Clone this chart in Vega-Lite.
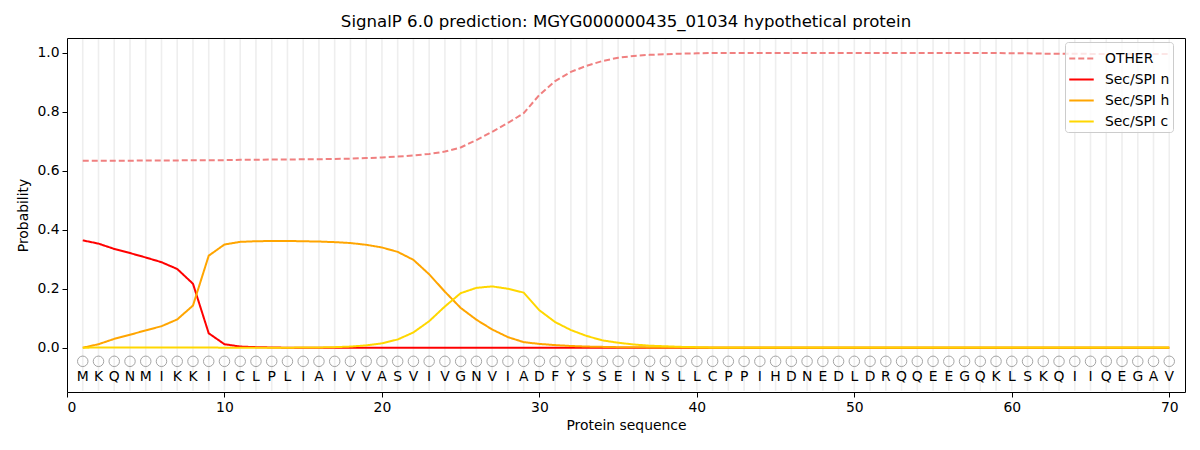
{
  "$schema": "https://vega.github.io/schema/vega-lite/v6.json",
  "description": "SignalP 6.0 per-residue probabilities",
  "width": 1118,
  "height": 354,
  "autosize": "none",
  "padding": {"left": 67, "top": 38, "right": 15, "bottom": 58},
  "background": "white",
  "title": {
    "text": "SignalP 6.0 prediction: MGYG000000435_01034 hypothetical protein",
    "fontSize": 16.6,
    "fontWeight": "normal",
    "font": "DejaVu Sans",
    "color": "black",
    "anchor": "middle",
    "offset": 7
  },
  "config": {
    "font": "DejaVu Sans",
    "view": {"stroke": "black", "strokeWidth": 1},
    "axis": {
      "domain": false,
      "grid": false,
      "tickColor": "black",
      "tickSize": 5,
      "tickWidth": 1,
      "labelColor": "black",
      "labelFontSize": 13.9,
      "labelPadding": 3,
      "titleColor": "black",
      "titleFontSize": 13.9,
      "titleFontWeight": "normal"
    },
    "legend": {
      "orient": "none",
      "legendX": 998,
      "legendY": 4,
      "fillColor": "rgba(255,255,255,0.8)",
      "strokeColor": "#cccccc",
      "cornerRadius": 3,
      "padding": 3,
      "labelFontSize": 13.9,
      "labelColor": "black",
      "labelOffset": 10,
      "symbolType": "stroke",
      "symbolStrokeWidth": 2,
      "symbolSize": 600,
      "rowPadding": 0
    }
  },
  "datasets": {
    "probs": [
      {"pos": 1, "aa": "M", "OTHER": 0.634, "Sec/SPI n": 0.364, "Sec/SPI h": 0.0, "Sec/SPI c": 0.0},
      {"pos": 2, "aa": "K", "OTHER": 0.634, "Sec/SPI n": 0.353, "Sec/SPI h": 0.012, "Sec/SPI c": 0.001},
      {"pos": 3, "aa": "Q", "OTHER": 0.634, "Sec/SPI n": 0.335, "Sec/SPI h": 0.03, "Sec/SPI c": 0.001},
      {"pos": 4, "aa": "N", "OTHER": 0.634, "Sec/SPI n": 0.321, "Sec/SPI h": 0.044, "Sec/SPI c": 0.001},
      {"pos": 5, "aa": "M", "OTHER": 0.635, "Sec/SPI n": 0.306, "Sec/SPI h": 0.059, "Sec/SPI c": 0.001},
      {"pos": 6, "aa": "I", "OTHER": 0.635, "Sec/SPI n": 0.29, "Sec/SPI h": 0.073, "Sec/SPI c": 0.001},
      {"pos": 7, "aa": "K", "OTHER": 0.635, "Sec/SPI n": 0.267, "Sec/SPI h": 0.096, "Sec/SPI c": 0.001},
      {"pos": 8, "aa": "K", "OTHER": 0.636, "Sec/SPI n": 0.217, "Sec/SPI h": 0.143, "Sec/SPI c": 0.001},
      {"pos": 9, "aa": "I", "OTHER": 0.636, "Sec/SPI n": 0.049, "Sec/SPI h": 0.312, "Sec/SPI c": 0.001},
      {"pos": 10, "aa": "I", "OTHER": 0.636, "Sec/SPI n": 0.012, "Sec/SPI h": 0.35, "Sec/SPI c": 0.0},
      {"pos": 11, "aa": "C", "OTHER": 0.637, "Sec/SPI n": 0.004, "Sec/SPI h": 0.359, "Sec/SPI c": 0.0},
      {"pos": 12, "aa": "L", "OTHER": 0.637, "Sec/SPI n": 0.002, "Sec/SPI h": 0.361, "Sec/SPI c": 0.0},
      {"pos": 13, "aa": "P", "OTHER": 0.638, "Sec/SPI n": 0.001, "Sec/SPI h": 0.362, "Sec/SPI c": 0.0},
      {"pos": 14, "aa": "L", "OTHER": 0.638, "Sec/SPI n": 0.0, "Sec/SPI h": 0.362, "Sec/SPI c": 0.0},
      {"pos": 15, "aa": "I", "OTHER": 0.639, "Sec/SPI n": 0.0, "Sec/SPI h": 0.361, "Sec/SPI c": 0.001},
      {"pos": 16, "aa": "A", "OTHER": 0.639, "Sec/SPI n": 0.0, "Sec/SPI h": 0.36, "Sec/SPI c": 0.001},
      {"pos": 17, "aa": "I", "OTHER": 0.64, "Sec/SPI n": 0.0, "Sec/SPI h": 0.358, "Sec/SPI c": 0.002},
      {"pos": 18, "aa": "V", "OTHER": 0.641, "Sec/SPI n": 0.0, "Sec/SPI h": 0.355, "Sec/SPI c": 0.004},
      {"pos": 19, "aa": "V", "OTHER": 0.643, "Sec/SPI n": 0.0, "Sec/SPI h": 0.349, "Sec/SPI c": 0.008},
      {"pos": 20, "aa": "A", "OTHER": 0.645, "Sec/SPI n": 0.0, "Sec/SPI h": 0.34, "Sec/SPI c": 0.015},
      {"pos": 21, "aa": "S", "OTHER": 0.648, "Sec/SPI n": 0.0, "Sec/SPI h": 0.325, "Sec/SPI c": 0.028},
      {"pos": 22, "aa": "V", "OTHER": 0.652, "Sec/SPI n": 0.0, "Sec/SPI h": 0.298, "Sec/SPI c": 0.052},
      {"pos": 23, "aa": "I", "OTHER": 0.657, "Sec/SPI n": 0.0, "Sec/SPI h": 0.249, "Sec/SPI c": 0.09},
      {"pos": 24, "aa": "V", "OTHER": 0.665, "Sec/SPI n": 0.0, "Sec/SPI h": 0.19, "Sec/SPI c": 0.14},
      {"pos": 25, "aa": "G", "OTHER": 0.679, "Sec/SPI n": 0.0, "Sec/SPI h": 0.135, "Sec/SPI c": 0.185},
      {"pos": 26, "aa": "N", "OTHER": 0.704, "Sec/SPI n": 0.0, "Sec/SPI h": 0.095, "Sec/SPI c": 0.203},
      {"pos": 27, "aa": "V", "OTHER": 0.732, "Sec/SPI n": 0.0, "Sec/SPI h": 0.062, "Sec/SPI c": 0.208},
      {"pos": 28, "aa": "I", "OTHER": 0.762, "Sec/SPI n": 0.0, "Sec/SPI h": 0.036, "Sec/SPI c": 0.2},
      {"pos": 29, "aa": "A", "OTHER": 0.795, "Sec/SPI n": 0.0, "Sec/SPI h": 0.019, "Sec/SPI c": 0.187},
      {"pos": 30, "aa": "D", "OTHER": 0.857, "Sec/SPI n": 0.0, "Sec/SPI h": 0.013, "Sec/SPI c": 0.127},
      {"pos": 31, "aa": "F", "OTHER": 0.904, "Sec/SPI n": 0.0, "Sec/SPI h": 0.009, "Sec/SPI c": 0.087},
      {"pos": 32, "aa": "Y", "OTHER": 0.935, "Sec/SPI n": 0.0, "Sec/SPI h": 0.006, "Sec/SPI c": 0.06},
      {"pos": 33, "aa": "S", "OTHER": 0.956, "Sec/SPI n": 0.0, "Sec/SPI h": 0.004, "Sec/SPI c": 0.04},
      {"pos": 34, "aa": "S", "OTHER": 0.972, "Sec/SPI n": 0.0, "Sec/SPI h": 0.003, "Sec/SPI c": 0.025},
      {"pos": 35, "aa": "E", "OTHER": 0.983, "Sec/SPI n": 0.0, "Sec/SPI h": 0.002, "Sec/SPI c": 0.017},
      {"pos": 36, "aa": "I", "OTHER": 0.989, "Sec/SPI n": 0.0, "Sec/SPI h": 0.002, "Sec/SPI c": 0.011},
      {"pos": 37, "aa": "N", "OTHER": 0.993, "Sec/SPI n": 0.0, "Sec/SPI h": 0.001, "Sec/SPI c": 0.007},
      {"pos": 38, "aa": "S", "OTHER": 0.995, "Sec/SPI n": 0.0, "Sec/SPI h": 0.001, "Sec/SPI c": 0.005},
      {"pos": 39, "aa": "L", "OTHER": 0.997, "Sec/SPI n": 0.0, "Sec/SPI h": 0.001, "Sec/SPI c": 0.003},
      {"pos": 40, "aa": "L", "OTHER": 0.998, "Sec/SPI n": 0.0, "Sec/SPI h": 0.0, "Sec/SPI c": 0.002},
      {"pos": 41, "aa": "C", "OTHER": 0.999, "Sec/SPI n": 0.0, "Sec/SPI h": 0.0, "Sec/SPI c": 0.001},
      {"pos": 42, "aa": "P", "OTHER": 0.999, "Sec/SPI n": 0.0, "Sec/SPI h": 0.0, "Sec/SPI c": 0.001},
      {"pos": 43, "aa": "P", "OTHER": 0.999, "Sec/SPI n": 0.0, "Sec/SPI h": 0.0, "Sec/SPI c": 0.001},
      {"pos": 44, "aa": "I", "OTHER": 0.999, "Sec/SPI n": 0.0, "Sec/SPI h": 0.0, "Sec/SPI c": 0.001},
      {"pos": 45, "aa": "H", "OTHER": 0.999, "Sec/SPI n": 0.0, "Sec/SPI h": 0.0, "Sec/SPI c": 0.001},
      {"pos": 46, "aa": "D", "OTHER": 0.999, "Sec/SPI n": 0.0, "Sec/SPI h": 0.0, "Sec/SPI c": 0.001},
      {"pos": 47, "aa": "N", "OTHER": 0.999, "Sec/SPI n": 0.0, "Sec/SPI h": 0.0, "Sec/SPI c": 0.001},
      {"pos": 48, "aa": "E", "OTHER": 0.999, "Sec/SPI n": 0.0, "Sec/SPI h": 0.0, "Sec/SPI c": 0.001},
      {"pos": 49, "aa": "D", "OTHER": 0.999, "Sec/SPI n": 0.0, "Sec/SPI h": 0.0, "Sec/SPI c": 0.001},
      {"pos": 50, "aa": "L", "OTHER": 0.999, "Sec/SPI n": 0.0, "Sec/SPI h": 0.0, "Sec/SPI c": 0.001},
      {"pos": 51, "aa": "D", "OTHER": 0.999, "Sec/SPI n": 0.0, "Sec/SPI h": 0.0, "Sec/SPI c": 0.001},
      {"pos": 52, "aa": "R", "OTHER": 0.999, "Sec/SPI n": 0.0, "Sec/SPI h": 0.0, "Sec/SPI c": 0.001},
      {"pos": 53, "aa": "Q", "OTHER": 0.999, "Sec/SPI n": 0.0, "Sec/SPI h": 0.0, "Sec/SPI c": 0.001},
      {"pos": 54, "aa": "Q", "OTHER": 0.999, "Sec/SPI n": 0.0, "Sec/SPI h": 0.0, "Sec/SPI c": 0.001},
      {"pos": 55, "aa": "E", "OTHER": 0.999, "Sec/SPI n": 0.0, "Sec/SPI h": 0.0, "Sec/SPI c": 0.001},
      {"pos": 56, "aa": "E", "OTHER": 0.999, "Sec/SPI n": 0.0, "Sec/SPI h": 0.0, "Sec/SPI c": 0.001},
      {"pos": 57, "aa": "G", "OTHER": 0.999, "Sec/SPI n": 0.0, "Sec/SPI h": 0.0, "Sec/SPI c": 0.001},
      {"pos": 58, "aa": "Q", "OTHER": 0.999, "Sec/SPI n": 0.0, "Sec/SPI h": 0.0, "Sec/SPI c": 0.001},
      {"pos": 59, "aa": "K", "OTHER": 0.999, "Sec/SPI n": 0.0, "Sec/SPI h": 0.0, "Sec/SPI c": 0.001},
      {"pos": 60, "aa": "L", "OTHER": 0.998, "Sec/SPI n": 0.0, "Sec/SPI h": 0.0, "Sec/SPI c": 0.001},
      {"pos": 61, "aa": "S", "OTHER": 0.998, "Sec/SPI n": 0.0, "Sec/SPI h": 0.0, "Sec/SPI c": 0.001},
      {"pos": 62, "aa": "K", "OTHER": 0.997, "Sec/SPI n": 0.0, "Sec/SPI h": 0.0, "Sec/SPI c": 0.001},
      {"pos": 63, "aa": "Q", "OTHER": 0.997, "Sec/SPI n": 0.0, "Sec/SPI h": 0.0, "Sec/SPI c": 0.001},
      {"pos": 64, "aa": "I", "OTHER": 0.997, "Sec/SPI n": 0.0, "Sec/SPI h": 0.0, "Sec/SPI c": 0.001},
      {"pos": 65, "aa": "I", "OTHER": 0.996, "Sec/SPI n": 0.0, "Sec/SPI h": 0.0, "Sec/SPI c": 0.001},
      {"pos": 66, "aa": "Q", "OTHER": 0.996, "Sec/SPI n": 0.0, "Sec/SPI h": 0.0, "Sec/SPI c": 0.001},
      {"pos": 67, "aa": "E", "OTHER": 0.996, "Sec/SPI n": 0.0, "Sec/SPI h": 0.0, "Sec/SPI c": 0.001},
      {"pos": 68, "aa": "G", "OTHER": 0.996, "Sec/SPI n": 0.0, "Sec/SPI h": 0.0, "Sec/SPI c": 0.001},
      {"pos": 69, "aa": "A", "OTHER": 0.996, "Sec/SPI n": 0.0, "Sec/SPI h": 0.0, "Sec/SPI c": 0.001},
      {"pos": 70, "aa": "V", "OTHER": 0.996, "Sec/SPI n": 0.0, "Sec/SPI h": 0.0, "Sec/SPI c": 0.001}
    ]
  },
  "data": {"name": "probs"},
  "encoding": {
    "x": {
      "field": "pos",
      "type": "quantitative",
      "scale": {"domain": [0, 71], "nice": false, "zero": false},
      "axis": {"values": [0, 10, 20, 30, 40, 50, 60, 70], "title": "Protein sequence", "titlePadding": 5}
    }
  },
  "layer": [
    {
      "mark": {"type": "rule", "color": "#eeeeee", "strokeWidth": 1.6},
      "encoding": {
        "y": {"datum": 1.046, "type": "quantitative"},
        "y2": {"datum": -0.146}
      }
    },
    {
      "transform": [
        {"fold": ["OTHER", "Sec/SPI n", "Sec/SPI h", "Sec/SPI c"], "as": ["series", "prob"]}
      ],
      "mark": {"type": "line", "strokeWidth": 2},
      "encoding": {
        "y": {
          "field": "prob",
          "type": "quantitative",
          "scale": {"domain": [-0.15, 1.05], "nice": false, "zero": false},
          "axis": {"values": [0, 0.2, 0.4, 0.6, 0.8, 1.0], "format": ".1f", "title": "Probability", "titlePadding": 6}
        },
        "color": {
          "field": "series",
          "type": "nominal",
          "scale": {
            "domain": ["OTHER", "Sec/SPI n", "Sec/SPI h", "Sec/SPI c"],
            "range": ["#f08080", "#ff0000", "#ffa500", "#ffd700"]
          },
          "legend": {"title": null}
        },
        "strokeDash": {
          "field": "series",
          "type": "nominal",
          "scale": {
            "domain": ["OTHER", "Sec/SPI n", "Sec/SPI h", "Sec/SPI c"],
            "range": [[6, 3], [1, 0], [1, 0], [1, 0]]
          },
          "legend": {"title": null}
        },
        "order": {"field": "pos", "type": "quantitative"}
      }
    },
    {
      "mark": {"type": "point", "shape": "circle", "filled": false, "color": "#808080", "size": 110, "strokeWidth": 1},
      "encoding": {
        "y": {"datum": -0.046, "type": "quantitative"}
      }
    },
    {
      "mark": {"type": "text", "fontSize": 13.9, "color": "black", "baseline": "middle", "align": "center"},
      "encoding": {
        "y": {"datum": -0.098, "type": "quantitative"},
        "text": {"field": "aa", "type": "nominal"}
      }
    }
  ]
}
